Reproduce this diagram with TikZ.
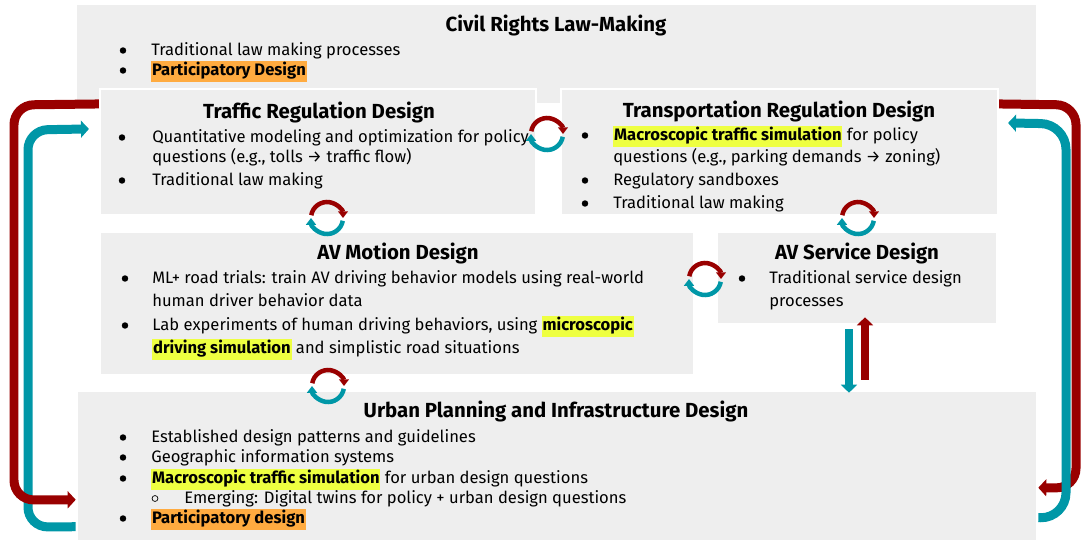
\documentclass[tikz,border=0pt]{standalone}
\usepackage{fontspec}
\setmainfont{Fira Sans}
\usepackage{xcolor}
\usetikzlibrary{
  arrows.meta,
  calc,
  positioning,
  fit
}
\definecolor{panelgray}{RGB}{238,238,238}
\definecolor{loopred}{RGB}{153,0,0}
\definecolor{loopteal}{RGB}{0,151,167}
\definecolor{hlyellow}{RGB}{238,255,65}
\definecolor{hlorange}{RGB}{255,171,64}
\newcommand{\bodysize}{\fontsize{11.8}{13.5}\selectfont}
\newcommand{\titlesize}{\fontsize{14.5}{16}\selectfont\bfseries}
\newcommand{\hly}[1]{{\setlength{\fboxsep}{0.6pt}\colorbox{hlyellow}{\strut\textbf{#1}}}}
\newcommand{\hlo}[1]{{\setlength{\fboxsep}{0.6pt}\colorbox{hlorange}{\strut\textbf{#1}}}}

\begin{document}
\begin{tikzpicture}[
  x=0.025cm, y=-0.025cm,
  area/.style={fill=panelgray, inner sep=0pt},
  lifted/.style={area, draw=white, line width=1.5pt},
  ttl/.style={anchor=base, inner sep=0pt, font=\titlesize},
  txt/.style={anchor=base west, inner sep=0pt, font=\bodysize},
  dot/.style={circle, fill=black, inner sep=0pt, minimum size=4.6pt},
  ring/.style={circle, draw=black, line width=0.5pt, inner sep=0pt, minimum size=4.2pt},
  flow/.style={line width=6.4pt, rounded corners=14pt, -{Triangle[width=12pt,length=5.7pt]}},
  bar/.style={line width=5.7pt, -{Triangle[width=11.3pt,length=5.7pt]}},
  spin/.style={line width=3.2pt, -{Triangle[width=7pt,length=4.8pt]}}
]
  \useasboundingbox (0,0) rectangle (1081,541);

  % Panels
  \node[area, fit={(77,5) (1036,103)}] (civil) {};
  \node[lifted, fit={(100,89) (536,215)}] (traffic) {};
  \node[lifted, fit={(561,89) (998,215)}] (transport) {};
  \node[area, fit={(101,233) (693,374)}] (motion) {};
  \node[area, fit={(718,233) (996,323)}] (service) {};
  \node[area, fit={(78,392) (1036,540)}] (urban) {};

  % Civil rights
  \node[ttl] (civil-t) at (556,31) {Civil Rights Law-Making};
  \foreach \y [count=\i] in {55,75} \node[dot] (civil-d\i) at (123,\y-4.5) {};
  \node[txt] (civil-1) at (151,55) {Traditional law making processes};
  \node[txt] (civil-2) at (151,75) {\hlo{Participatory Design}};

  % Traffic regulation
  \node[ttl] (traffic-t) at (319,118) {Traffic Regulation Design};
  \foreach \y [count=\i] in {142,185} \node[dot] (traffic-d\i) at (122,\y-4.5) {};
  \node[txt] (traffic-1) at (152,142) {Quantitative modeling and optimization for policy};
  \node[txt] (traffic-2) at (152,162) {questions (e.g., tolls → traffic flow)};
  \node[txt] (traffic-3) at (152,185) {Traditional law making};

  % Transportation regulation
  \node[ttl] (transport-t) at (779,117) {Transportation Regulation Design};
  \foreach \y [count=\i] in {140,185,208} \node[dot] (transport-d\i) at (585,\y-4.5) {};
  \node[txt] (transport-1) at (613,140) {\hly{Macroscopic traffic simulation} for policy};
  \node[txt] (transport-2) at (613,162) {questions (e.g., parking demands → zoning)};
  \node[txt] (transport-3) at (613,185) {Regulatory sandboxes};
  \node[txt] (transport-4) at (613,208) {Traditional law making};

  % AV motion
  \node[ttl] (motion-t) at (398,259) {AV Motion Design};
  \foreach \y [count=\i] in {283,330} \node[dot] (motion-d\i) at (125,\y-4.5) {};
  \node[txt] (motion-1) at (152,283) {ML+ road trials: train AV driving behavior models using real-world};
  \node[txt] (motion-2) at (152,306) {human driver behavior data};
  \node[txt] (motion-3) at (152,330) {Lab experiments of human driving behaviors, using \hly{microscopic}};
  \node[txt] (motion-4) at (152,353) {\hly{driving simulation} and simplistic road situations};

  % AV service
  \node[ttl] (service-t) at (857,259) {AV Service Design};
  \node[dot] (service-d1) at (742,278.5) {};
  \node[txt] (service-1) at (769,283) {Traditional service design};
  \node[txt] (service-2) at (769,306) {processes};

  % Urban planning
  \node[ttl] (urban-t) at (556,417) {Urban Planning and Infrastructure Design};
  \foreach \y [count=\i] in {442,462,483,523} \node[dot] (urban-d\i) at (123,\y-4.5) {};
  \node[ring] (urban-r1) at (155,498.5) {};
  \node[txt] (urban-1) at (151,442) {Established design patterns and guidelines};
  \node[txt] (urban-2) at (151,462) {Geographic information systems};
  \node[txt] (urban-3) at (151,483) {\hly{Macroscopic traffic simulation} for urban design questions};
  \node[txt] (urban-4) at (184,503) {Emerging: Digital twins for policy + urban design questions};
  \node[txt] (urban-5) at (151,523) {\hlo{Participatory design}};

  % Cycle icons
  \foreach \cx/\cy in {547/134, 327/218, 858/218, 705/279, 328/386} {
    \draw[spin, loopred] (\cx,\cy) ++(-170:16) arc (-170:0:16);
    \draw[spin, loopteal] (\cx,\cy) ++(10:16) arc (10:180:16);
  }

  % Service <-> urban
  \draw[bar, loopteal] ($(service.south)+(-8,6)$) -- ($(service.south |- urban.north)+(-8,1)$);
  \draw[bar, loopred] ($(service.south |- urban.north)+(8,-12)$) -- ($(service.south)+(8,-6)$);

  % Outer loops, left
  \draw[flow, loopteal] ($(urban.north west)+(-2,135)$) -- (28,527) -- (28,130)
    -- ($(traffic.north west)+(-10,41)$);
  \draw[flow, loopred] ($(traffic.north west)+(0,16)$) -- (14,105) -- (14,500)
    -- ($(urban.north west)+(-2,108)$);

  % Outer loops, right
  \draw[flow, loopred] ($(transport.north east)+(0,16)$) -- (1076,105) -- (1076,488)
    -- ($(urban.north east)+(2,96)$);
  \draw[flow, loopteal, rounded corners=18pt] ($(urban.north east)+(2,126)$) -- (1066,518)
    -- (1066,124) -- ($(transport.north east)+(9,35)$);
\end{tikzpicture}
\end{document}
